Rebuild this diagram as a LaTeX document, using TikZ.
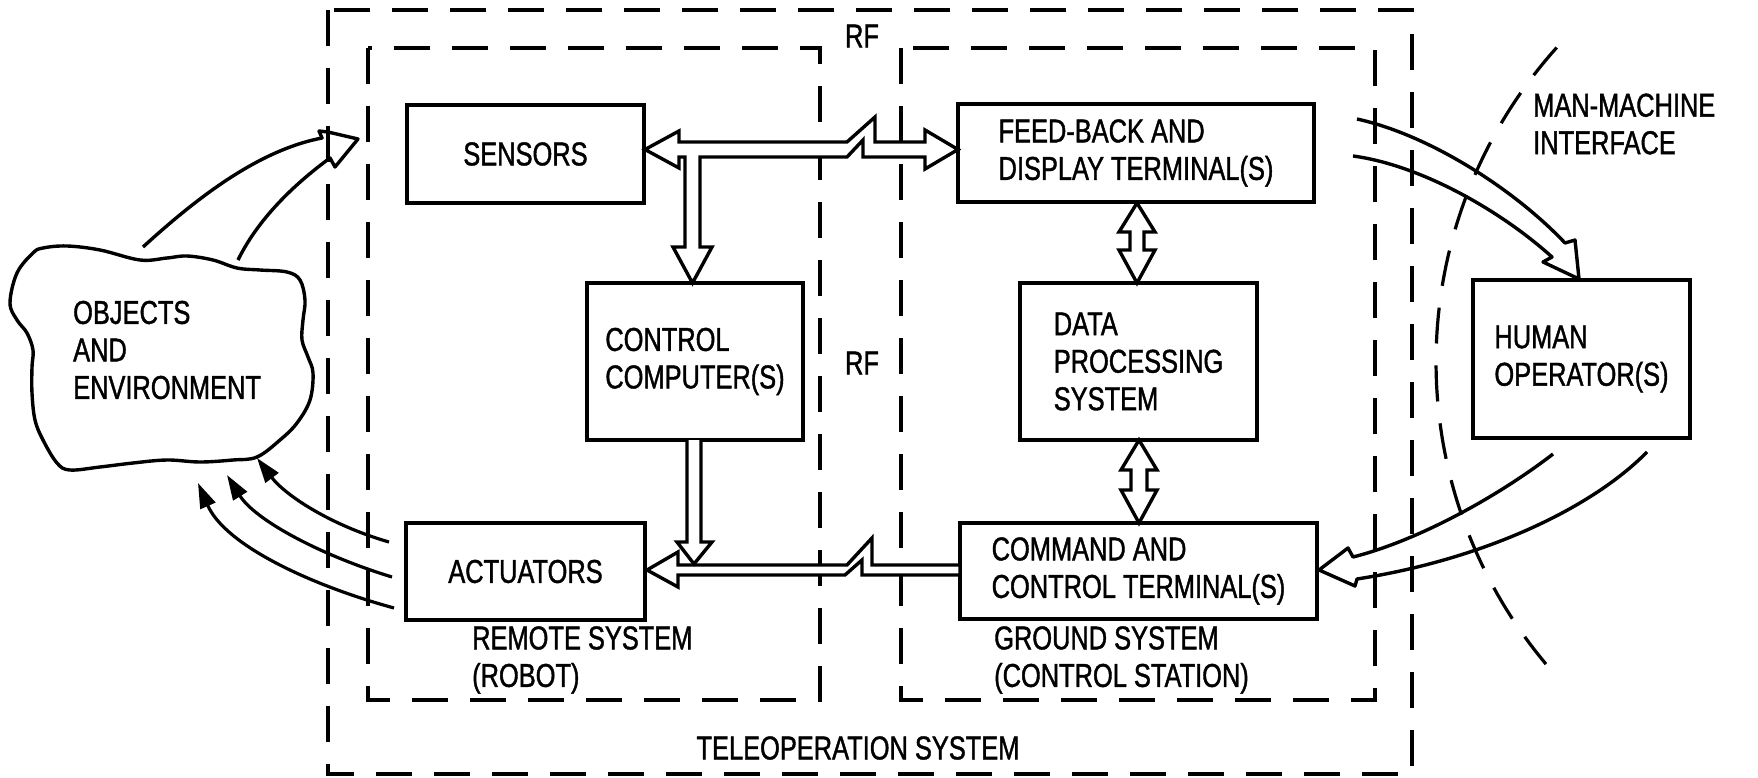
\documentclass[tikz,border=0pt]{standalone}
\usepackage{fontspec}
\setmainfont{Liberation Sans}[FakeStretch=0.77,FakeBold=1.2]
\usetikzlibrary{arrows.meta}
\begin{document}
\begin{tikzpicture}[x=1pt,y=-1pt,font=\fontsize{33}{37.5}\selectfont]
\tikzset{
 boxnode/.style={draw, line width=3.4pt, inner sep=0pt, align=left},
 dashbox/.style={line width=3.2pt, dash pattern=on 36pt off 22pt},
 hollow/.style={draw, line width=3.4pt, line join=miter, fill=white},
 outl/.style={line width=3.4pt, line join=round},
 thinarrow/.style={line width=3.2pt, -{Triangle[length=25pt,width=16pt]}},
 lbl/.style={inner sep=0pt, align=left},
}
\useasboundingbox (0,0) rectangle (1758,778);

% dashed system boundaries
\draw[dashbox] (328,10) rectangle (1412,774);
\draw[dashbox] (368,48) rectangle (820,700);
\draw[dashbox] (901,48) rectangle (1375,700);
\draw[dashbox] plot[domain=138:220, samples=80] ({1906+470*cos(\x)},{362-470*sin(\x)});

% boxes
\node[boxnode, minimum width=237pt, minimum height=98pt] (sensors) at (525.5,154) {SENSORS};
\node[boxnode, minimum width=216pt, minimum height=157pt] (control) at (695,361.5) {CONTROL\\COMPUTER(S)};
\node[boxnode, minimum width=239pt, minimum height=97pt] (actuators) at (525.5,571.5) {ACTUATORS};
\node[boxnode, minimum width=356pt, minimum height=98pt] (feedback) at (1136,153) {FEED-BACK AND\\DISPLAY TERMINAL(S)};
\node[boxnode, minimum width=237pt, minimum height=157pt] (dataproc) at (1138.5,361.5) {DATA\\PROCESSING\\SYSTEM};
\node[boxnode, minimum width=357pt, minimum height=96pt] (command) at (1138.5,571) {COMMAND AND\\CONTROL TERMINAL(S)};
\node[boxnode, minimum width=217pt, minimum height=158pt] (human) at (1581.5,359) {HUMAN\\OPERATOR(S)};

% labels
\node[lbl] (rftop) at (862,36) {RF};
\node[lbl] (rfmid) at (862,363) {RF};
\node[lbl, anchor=west] (remote) at (472,660) {REMOTE SYSTEM\\(ROBOT)};
\node[lbl, anchor=west] (ground) at (994,660) {GROUND SYSTEM\\(CONTROL STATION)};
\node[lbl] (teleop) at (858,748) {TELEOPERATION SYSTEM};
\node[lbl, anchor=west] (mmi) at (1533,124) {MAN-MACHINE\\INTERFACE};

% cloud
\draw[outl] plot[smooth cycle, tension=0.6] coordinates {
 (10,303) (17,273) (33,253) (43,248) (67,246) (100,250) (140,260) (167,258)
 (187,256) (213,260) (237,268) (260,270) (287,272) (300,280) (305,300)
 (303,320) (302,340) (308,357) (313,373) (310,400) (297,423) (280,440)
 (257,457) (233,460) (200,462) (167,460) (133,463) (100,467) (70,470)
 (57,463) (43,440) (35,420) (32,393) (32,367) (33,350) (27,333) (17,320)};
\node[lbl, anchor=west] (objects) at (73,350) {OBJECTS\\AND\\ENVIRONMENT};

% sensors bus with branch to control computer
\draw[hollow] (645,149.5) -- (679,131) -- (679,142) -- (847,142) -- (875,117) -- (875,142)
 -- (925,142) -- (925,130) -- (958,149.5) -- (925,169) -- (925,157) -- (863,157) -- (863,140)
 -- (847,157) -- (700,157) -- (700,247) -- (712,247) -- (692.5,283) -- (673,247) -- (685,247)
 -- (685,157) -- (679,157) -- (679,168) -- cycle;

% command bus to actuators
\draw[hollow] (647,570) -- (678,552) -- (678,565) -- (847,565) -- (872,538) -- (872,565)
 -- (960,565) -- (960,575) -- (862,575) -- (862,560) -- (845,575) -- (678,575) -- (678,587) -- cycle;

% control computer down to actuator bus
\draw[hollow] (687,440) -- (687,542) -- (677,542) -- (694,564) -- (712,542) -- (701,542) -- (701,440);

% feedback <-> data processing
\draw[hollow] (1137,203) -- (1155,232) -- (1144,232) -- (1144,250) -- (1155,250) -- (1137,283)
 -- (1119,250) -- (1130,250) -- (1130,232) -- (1119,232) -- cycle;
% data processing <-> command
\draw[hollow] (1139,440) -- (1157,470) -- (1147,470) -- (1147,490) -- (1157,490) -- (1139,523)
 -- (1121,490) -- (1131,490) -- (1131,470) -- (1121,470) -- cycle;

% feedback -> human operator
\draw[outl] (1357,119) .. controls (1430,135) and (1515,190) .. (1565,243) -- (1575,240)
 -- (1579,279) -- (1543,262) -- (1552,257) .. controls (1500,210) and (1420,165) .. (1353,156);

% human operator -> command
\draw[outl] (1553,454) .. controls (1500,495) and (1420,540) .. (1353,557) -- (1348,548)
 -- (1319,570) -- (1355,586) -- (1357,579) .. controls (1480,560) and (1590,510) .. (1647,452);

% objects -> sensors
\draw[outl] (143,247) .. controls (200,195) and (260,150) .. (322,138) -- (319,131) -- (328,132)
 -- (358,139) -- (335,167) -- (330,158) .. controls (300,180) and (260,215) .. (238,260);

% actuators -> objects
\coordinate (a1) at (389,542); \coordinate (c1) at (257,458);
\coordinate (a2) at (392,577); \coordinate (c2) at (227,475);
\coordinate (a3) at (394,608); \coordinate (c3) at (198,483);
\draw[thinarrow] (a1) .. controls (330,525) and (285,495) .. (c1);
\draw[thinarrow] (a2) .. controls (320,555) and (255,520) .. (c2);
\draw[thinarrow] (a3) .. controls (310,585) and (225,545) .. (c3);
\end{tikzpicture}
\end{document}
